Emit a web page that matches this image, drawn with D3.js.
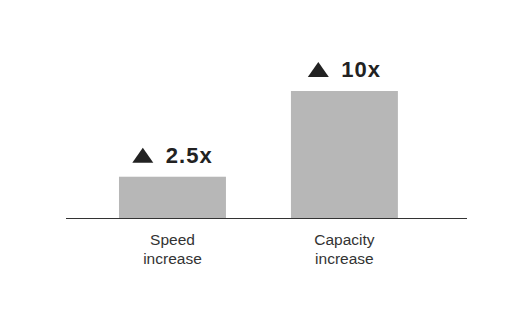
<!DOCTYPE html>
<html>
<head>
<meta charset="utf-8">
<script src="https://cdn.jsdelivr.net/npm/d3@7"></script>
<style>
  body { margin: 0; background: #fff; }
  svg { display: block; font-family: "Liberation Sans", Arial, sans-serif; }
</style>
</head>
<body>
<div id="chart"></div>
<script>
// chart data
const categories = ["Speed increase", "Capacity increase"];
const categoryLines = [["Speed", "increase"], ["Capacity", "increase"]];
const multipliers = ["2.5x", "10x"];
// bar heights as drawn (relative units, tallest = 100)
const barHeights = [32.5, 100];

const width = 520, height = 309;
const margin = {top: 91, right: 53, bottom: 91, left: 66};
const innerW = width - margin.left - margin.right;
const innerH = height - margin.top - margin.bottom;

const svg = d3.select("#chart").append("svg")
    .attr("width", width)
    .attr("height", height);

const g = svg.append("g")
    .attr("transform", `translate(${margin.left},${margin.top})`);

const x = d3.scaleBand()
    .domain(categories)
    .range([0, innerW])
    .paddingInner(0.378)
    .paddingOuter(0.355)
    .align(0.434);

const y = d3.scaleLinear()
    .domain([0, 100])
    .range([innerH, 0]);

g.selectAll(".bar")
    .data(categories)
    .enter().append("rect")
    .attr("class", "bar")
    .attr("x", d => x(d))
    .attr("width", x.bandwidth())
    .attr("y", (d, i) => y(barHeights[i]))
    .attr("height", (d, i) => innerH - y(barHeights[i]))
    .attr("fill", "#b7b7b7");

// baseline
g.append("line")
    .attr("x1", 0)
    .attr("x2", innerW)
    .attr("y1", innerH + 0.5)
    .attr("y2", innerH + 0.5)
    .attr("stroke", "#333")
    .attr("stroke-width", 1);

// value labels: triangle + multiplier, centred over the bar
const triW = 21, triH = 15, gap = 12.5;
const labels = g.selectAll(".value")
    .data(categories)
    .enter().append("g")
    .attr("class", "value");

labels.append("path")
    .attr("d", `M0,0 L${triW / 2},${-triH} L${triW},0 Z`)
    .attr("fill", "#222");

labels.append("text")
    .attr("x", triW + gap)
    .attr("y", 0)
    .style("font-size", "22px")
    .style("font-weight", "bold")
    .style("letter-spacing", "1px")
    .style("fill", "#222")
    .text((d, i) => multipliers[i]);

labels.attr("transform", function(d, i) {
    const w = this.getBBox().width;
    const cx = x(d) + x.bandwidth() / 2;
    return `translate(${cx - w / 2},${y(barHeights[i]) - 14})`;
});

// category labels
const cat = g.selectAll(".cat")
    .data(categories)
    .enter().append("text")
    .attr("class", "cat")
    .attr("text-anchor", "middle")
    .attr("transform", d => `translate(${x(d) + x.bandwidth() / 2},${innerH + 27})`)
    .style("font-size", "15.5px")
    .style("fill", "#333");

cat.selectAll("tspan")
    .data((d, i) => categoryLines[i])
    .enter().append("tspan")
    .attr("x", 0)
    .attr("y", (d, i) => i * 18.5)
    .text(d => d);
</script>
</body>
</html>
